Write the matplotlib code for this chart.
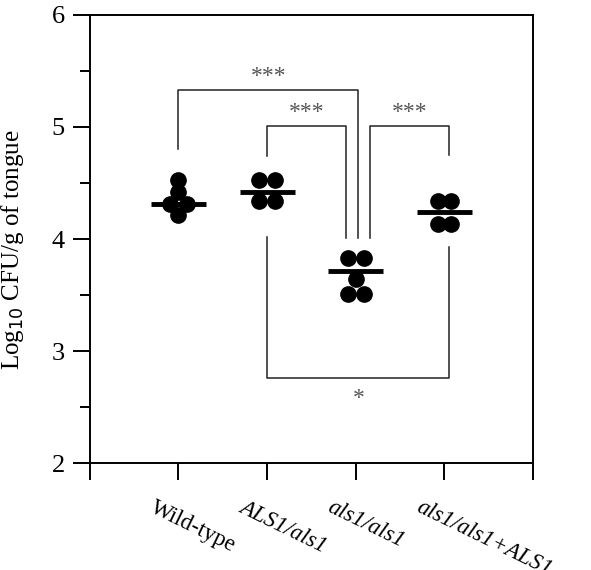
import numpy as np
import matplotlib
matplotlib.use('Agg')
import matplotlib.pyplot as plt
import matplotlib.transforms as mtransforms

plt.rcParams['font.family'] = ['Liberation Serif', 'DejaVu Serif']

# grupos e valores
grupos = ['Wild-type', 'ALS1/als1', 'als1/als1', 'als1/als1+ALS1']
italico = [False, True, True, True]
pos = [1, 2, 3, 4]
wt = [4.53, 4.42, 4.31, 4.31, 4.21]
het = [4.53, 4.53, 4.34, 4.34]
mut = [3.83, 3.83, 3.64, 3.51, 3.51]
rev = [4.34, 4.34, 4.13, 4.13]
valores = [wt, het, mut, rev]
desloc = [[0, 0, -0.1, 0.1, 0],
          [-0.09, 0.09, -0.09, 0.09],
          [-0.09, 0.09, 0, -0.09, 0.09],
          [-0.075, 0.075, -0.075, 0.075]]
medias = [4.31, 4.42, 3.71, 4.24]

fig = plt.figure(figsize=(5.91, 5.70), dpi=100)
ax = fig.add_axes([0.152, 0.1877, 0.902 - 0.152, 0.9737 - 0.1877])

for p, v, d, m in zip(pos, valores, desloc, medias):
    ax.plot(np.array(d) + p, v, 'o', color='black', ms=11, mec='black')
    ax.plot([p - 0.31, p + 0.31], [m, m], '-', color='black', lw=3.5, solid_capstyle='butt')

# colchetes de significancia
cor = '#222222'
def colchete(x1, x2, ytop, y1, y2, txt, ytxt):
    ax.plot([x1, x1, x2, x2], [y1, ytop, ytop, y2], color=cor, lw=1.1)
    ax.text((x1 + x2) / 2, ytxt, txt, ha='center', va='center', fontsize=17, color='#555555')

colchete(1.0, 3.03, 5.33, 4.80, 4.01, '***', 5.45)
colchete(2.0, 2.89, 5.01, 4.74, 4.01, '***', 5.13)
colchete(3.16, 4.05, 5.01, 4.01, 4.75, '***', 5.13)
ax.plot([2.0, 2.0, 4.05, 4.05], [4.02, 2.76, 2.76, 3.93], color=cor, lw=1.1)
ax.text(3.03, 2.58, '*', ha='center', va='center', fontsize=17, color='#555555')

ax.set_xlim(0, 5)
ax.set_ylim(2, 6)
ax.set_yticks([2, 3, 4, 5, 6])
ax.set_yticks([2.5, 3.5, 4.5, 5.5], minor=True)
ax.set_xticks([0, 1, 2, 3, 4, 5])
ax.set_xticklabels([''] * 6)
ax.tick_params(axis='y', which='major', length=12, width=1.4, labelsize=19, pad=6)
ax.tick_params(axis='y', which='minor', length=7, width=1.4)
ax.tick_params(axis='x', which='major', length=12, width=1.4)
for s in ax.spines.values():
    s.set_linewidth(1.4)

desl = mtransforms.ScaledTranslation(-0.22, -0.34, fig.dpi_scale_trans)
trans = ax.get_xaxis_transform() + desl
for p, g, it in zip(pos, grupos, italico):
    ax.text(p, 0, g, transform=trans, rotation=-26, rotation_mode='anchor',
            ha='left', va='top', fontsize=16.5, style='italic' if it else 'normal')

ax.set_ylabel('Log$_{10}$ CFU/g of tongue', fontsize=18)
ax.yaxis.set_label_coords(-0.145, 0.475)

fig.savefig('out.png', dpi=100)
